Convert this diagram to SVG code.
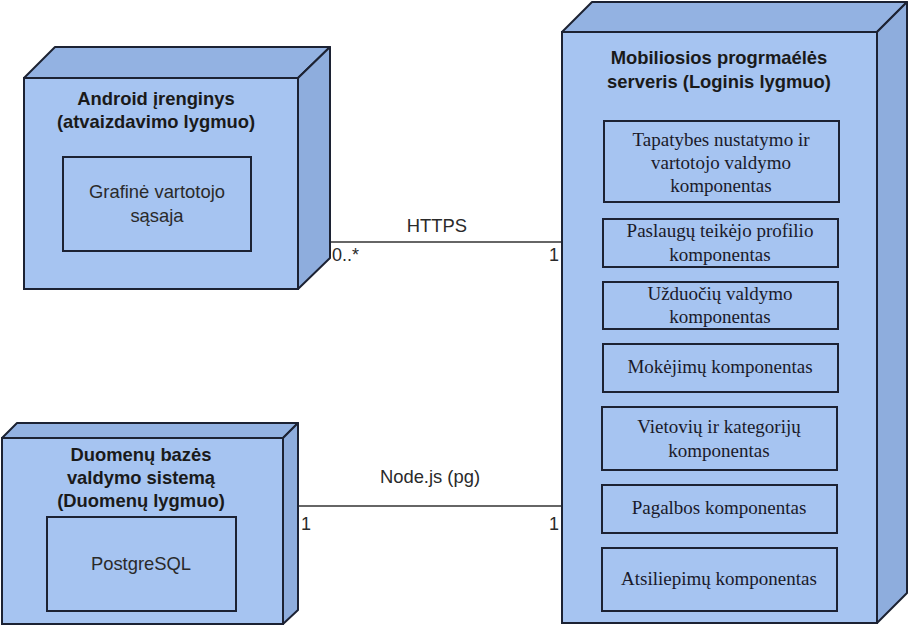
<svg xmlns="http://www.w3.org/2000/svg" width="908" height="627" viewBox="0 0 908 627">
<style>
.front{fill:#a6c4f1;stroke:#1c2233;stroke-width:2}
.top{fill:#93b2e2;stroke:#1c2233;stroke-width:2;stroke-linejoin:round}
.side{fill:#8eaddd;stroke:#1c2233;stroke-width:2;stroke-linejoin:round}
.inner{fill:#a6c4f1;stroke:#1c2233;stroke-width:2}
.title{font-family:"Liberation Sans",Arial,sans-serif;font-size:18.4px;font-weight:bold;fill:#1a1a1a;text-anchor:middle}
.lbl{font-family:"Liberation Sans",Arial,sans-serif;font-size:18.4px;fill:#2a2a2a;text-anchor:middle}
.comp{font-family:"Liberation Serif","Times New Roman",serif;font-size:19px;fill:#1a1a2a;text-anchor:middle}
.conn{stroke:#333;stroke-width:1.6;fill:none}
.mult{font-family:"Liberation Sans",Arial,sans-serif;font-size:18px;fill:#2a2a2a}
</style>
<rect width="908" height="627" fill="#ffffff"/>
<g id="connectors">
<line class="conn" x1="330" y1="242" x2="562" y2="242"/>
<text class="lbl" x="437" y="232">HTTPS</text>
<text class="mult" x="332" y="261">0..*</text>
<text class="mult" x="559" y="261" text-anchor="end">1</text>
<line class="conn" x1="298" y1="506" x2="562" y2="506"/>
<text class="lbl" x="430" y="483">Node.js (pg)</text>
<text class="mult" x="301" y="530">1</text>
<text class="mult" x="559" y="530" text-anchor="end">1</text>
</g>
<g id="android">
<polygon class="top" points="24,78 55,47 330,47 298,78"/>
<polygon class="side" points="298,78 330,47 330,258 298,289"/>
<rect class="front" x="24" y="78" width="274" height="211"/>
<text class="title" x="156" y="105">Android įrenginys</text>
<text class="title" x="156" y="128">(atvaizdavimo lygmuo)</text>
<g id="gui">
<rect class="inner" x="63" y="157" width="188" height="94"/>
<text class="lbl" x="157" y="198">Grafinė vartotojo</text>
<text class="lbl" x="157" y="222">sąsaja</text>
</g>
</g>
<g id="database">
<polygon class="top" points="2,438 17,423 298,423 283,438"/>
<polygon class="side" points="283,438 298,423 298,610 283,624"/>
<rect class="front" x="2" y="438" width="281" height="186"/>
<text class="title" x="141" y="461">Duomenų bazės</text>
<text class="title" x="141" y="484">valdymo sistemą</text>
<text class="title" x="141" y="507">(Duomenų lygmuo)</text>
<g id="postgres">
<rect class="inner" x="47" y="517" width="189" height="94"/>
<text class="lbl" x="141" y="570">PostgreSQL</text>
</g>
</g>
<g id="server">
<polygon class="top" points="562,32 592,2 907,2 877,32"/>
<polygon class="side" points="877,32 907,2 907,593 877,623"/>
<rect class="front" x="562" y="32" width="315" height="591"/>
<text class="title" x="719" y="64">Mobiliosios progrmaélės</text>
<text class="title" x="719" y="88">serveris (Loginis lygmuo)</text>
<g id="comp-auth">
<rect class="inner" x="604" y="121" width="235" height="81"/>
<text class="comp" x="721" y="146">Tapatybes nustatymo ir</text>
<text class="comp" x="721" y="169">vartotojo valdymo</text>
<text class="comp" x="721" y="192">komponentas</text>
</g>
<g id="comp-profile">
<rect class="inner" x="603" y="219" width="235" height="48"/>
<text class="comp" x="720" y="237">Paslaugų teikėjo profilio</text>
<text class="comp" x="720" y="261">komponentas</text>
</g>
<g id="comp-tasks">
<rect class="inner" x="603" y="282" width="235" height="47"/>
<text class="comp" x="720" y="300">Užduočių valdymo</text>
<text class="comp" x="720" y="323">komponentas</text>
</g>
<g id="comp-payments">
<rect class="inner" x="603" y="344" width="235" height="48"/>
<text class="comp" x="720" y="373">Mokėjimų komponentas</text>
</g>
<g id="comp-locations">
<rect class="inner" x="602" y="407" width="235" height="63"/>
<text class="comp" x="719" y="433">Vietovių ir kategorijų</text>
<text class="comp" x="719" y="457">komponentas</text>
</g>
<g id="comp-help">
<rect class="inner" x="602" y="485" width="235" height="48"/>
<text class="comp" x="719" y="514">Pagalbos komponentas</text>
</g>
<g id="comp-feedback">
<rect class="inner" x="602" y="548" width="235" height="63"/>
<text class="comp" x="719" y="585">Atsiliepimų komponentas</text>
</g>
</g>
</svg>
